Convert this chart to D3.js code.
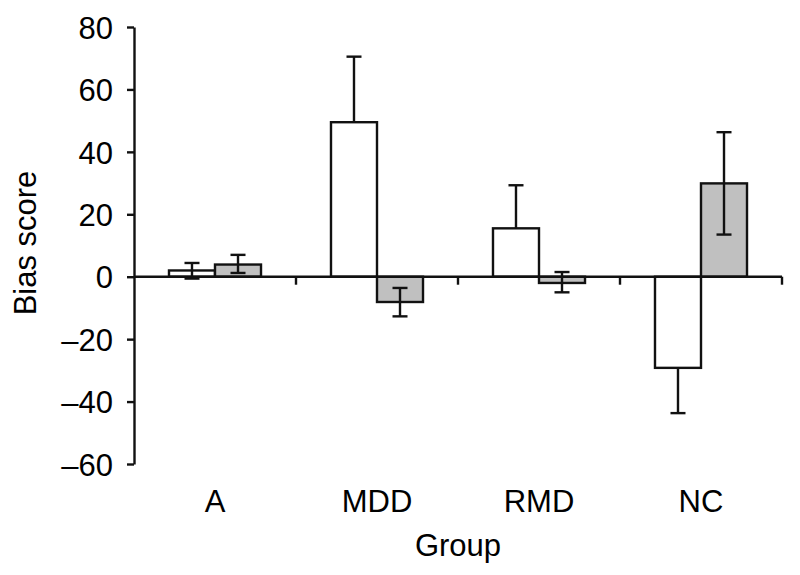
<!DOCTYPE html>
<html>
<head>
<meta charset="utf-8">
<script src="https://cdn.jsdelivr.net/npm/d3@7"></script>
<style>
  html, body { margin: 0; padding: 0; background: #fff; }
  text { font-family: "Liberation Sans", Arial, Helvetica, sans-serif; fill: #000; }
</style>
</head>
<body>
<svg id="chart" width="800" height="575"></svg>
<script>
// ---- data ----
const categories = ["A", "MDD", "RMD", "NC"];
const whiteValues = [2.0, 49.5, 15.5, -29.2];
const whiteErrHigh = [4.4, 70.5, 29.3, -29.2];
const whiteErrLow = [-0.6, 49.5, 15.5, -43.7];
const grayValues = [3.9, -8.1, -2.0, 29.9];
const grayErrHigh = [7.0, -3.6, 1.5, 46.3];
const grayErrLow = [1.2, -12.7, -5.0, 13.5];
const yTicks = [80, 60, 40, 20, 0, -20, -40, -60];
const xTitle = "Group";
const yTitle = "Bias score";

// ---- layout ----
const svg = d3.select("#chart");
const plotLeft = 134, plotRight = 782, plotTop = 27, plotBottom = 464;

const x = d3.scaleBand().domain(categories).range([plotLeft, plotRight]).padding(0);
const y = d3.scaleLinear().domain([-60, 80]).range([plotBottom, plotTop]);
const barW = x.bandwidth() * 0.284;

const ink = "#111";
const sw = 2.4;
const fs = "31px";

// Y axis
const yAxis = d3.axisLeft(y).tickValues(yTicks).tickSize(7).tickSizeOuter(0)
  .tickFormat(d => d < 0 ? "\u2013" + Math.abs(d) : String(d));
const gy = svg.append("g").attr("transform", `translate(${plotLeft},0)`).call(yAxis);
gy.select(".domain").attr("stroke", ink).attr("stroke-width", sw);
gy.selectAll(".tick line").attr("stroke", ink).attr("stroke-width", sw);
gy.selectAll(".tick text").attr("x", -21).attr("dy", "0.36em")
  .style("font-size", fs).style("fill", "#000")
  .style("font-family", "'Liberation Sans', Arial, Helvetica, sans-serif");

// Bars
const series = [
  { vals: whiteValues, hi: whiteErrHigh, lo: whiteErrLow, fill: "#ffffff", off: -1 },
  { vals: grayValues, hi: grayErrHigh, lo: grayErrLow, fill: "#c0c0c0", off: 0 }
];
series.forEach(s => {
  const g = svg.append("g");
  categories.forEach((c, i) => {
    const cx = x(c) + x.bandwidth() / 2 + s.off * barW;
    const v = s.vals[i];
    g.append("rect")
      .attr("x", cx).attr("width", barW)
      .attr("y", y(Math.max(0, v)))
      .attr("height", Math.abs(y(v) - y(0)))
      .attr("fill", s.fill).attr("stroke", ink).attr("stroke-width", sw);
  });
});

// X axis (zero line) with ticks at band boundaries
const boundaries = categories.map(c => x(c) + x.bandwidth());
svg.append("line").attr("x1", plotLeft).attr("x2", plotRight)
  .attr("y1", y(0)).attr("y2", y(0)).attr("stroke", ink).attr("stroke-width", sw);
svg.append("g").selectAll("line").data(boundaries).join("line")
  .attr("x1", d => d).attr("x2", d => d)
  .attr("y1", y(0)).attr("y2", y(0) + 8)
  .attr("stroke", ink).attr("stroke-width", sw);

// Error bars
const capW = 15;
series.forEach(s => {
  const g = svg.append("g");
  categories.forEach((c, i) => {
    const cx = x(c) + x.bandwidth() / 2 + s.off * barW + barW / 2;
    const v = s.vals[i];
    g.append("line").attr("x1", cx).attr("x2", cx)
      .attr("y1", y(s.hi[i])).attr("y2", y(s.lo[i]))
      .attr("stroke", ink).attr("stroke-width", sw);
    [s.hi[i], s.lo[i]].forEach(e => {
      if (e !== v) {
        g.append("line").attr("x1", cx - capW / 2).attr("x2", cx + capW / 2)
          .attr("y1", y(e)).attr("y2", y(e))
          .attr("stroke", ink).attr("stroke-width", sw);
      }
    });
  });
});

// Category labels
svg.append("g").selectAll("text").data(categories).join("text")
  .attr("x", d => x(d) + x.bandwidth() / 2)
  .attr("y", 512)
  .attr("text-anchor", "middle")
  .style("font-size", fs)
  .text(d => d);

// Axis titles
svg.append("text").attr("x", 458).attr("y", 556)
  .attr("text-anchor", "middle").style("font-size", fs).text(xTitle);
svg.append("text")
  .attr("transform", "translate(36,243) rotate(-90)")
  .attr("text-anchor", "middle").style("font-size", fs).text(yTitle);
</script>
</body>
</html>
